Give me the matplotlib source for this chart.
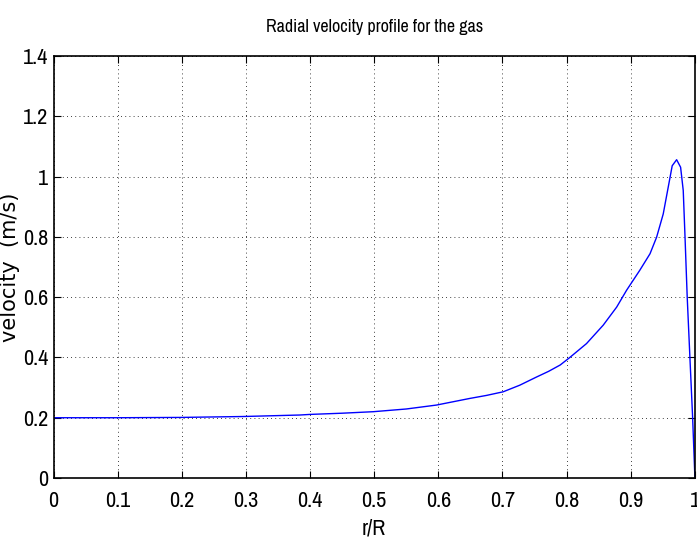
import matplotlib
matplotlib.use("Agg")
import matplotlib.pyplot as plt
import logging
logging.getLogger("matplotlib.font_manager").setLevel(logging.ERROR)

r = [0.0, 0.1, 0.197, 0.295, 0.384, 0.40, 0.45, 0.4985, 0.55, 0.597, 0.649, 0.675,
     0.701, 0.727, 0.753, 0.772, 0.790, 0.805, 0.831, 0.857, 0.878, 0.8935, 0.914,
     0.930, 0.9403, 0.9506, 0.9584, 0.9646, 0.9715, 0.9777, 0.9818, 0.9844, 0.988,
     0.9922, 0.9964, 1.0]
v = [0.200, 0.200, 0.201, 0.204, 0.209, 0.211, 0.215, 0.220, 0.229, 0.242, 0.264, 0.274,
     0.286, 0.308, 0.335, 0.354, 0.375, 0.400, 0.446, 0.507, 0.567, 0.623, 0.689,
     0.744, 0.799, 0.876, 0.965, 1.036, 1.056, 1.031, 0.954, 0.810, 0.600,
     0.400, 0.203, 0.0]
xticks = [0, 0.1, 0.2, 0.3, 0.4, 0.5, 0.6, 0.7, 0.8, 0.9, 1]
xticklabels = ["0", "0.1", "0.2", "0.3", "0.4", "0.5", "0.6", "0.7", "0.8", "0.9", "1"]
yticks = [0, 0.2, 0.4, 0.6, 0.8, 1.0, 1.2, 1.4]
yticklabels = ["0", "0.2", "0.4", "0.6", "0.8", "1", "1.2", "1.4"]

narrow = ["Archivo Narrow", "Roboto Condensed", "DejaVu Sans"]
wide = ["DejaVu Sans"]

fig = plt.figure(figsize=(6.97, 5.53), dpi=100)
ax = fig.add_axes([0.0768, 0.1356, 0.9202, 0.7631])

ax.plot(r, v, color="#0000ff", linewidth=1.0)

ax.set_xlim(0, 1)
ax.set_ylim(0, 1.4)
ax.set_xticks(xticks)
ax.set_xticklabels(xticklabels, fontsize=16, family=narrow)
ax.set_yticks(yticks)
ax.set_yticklabels(yticklabels, fontsize=16, family=narrow)
ax.tick_params(direction="in", length=5, width=0.8, top=True, right=True)
ax.tick_params(axis="x", pad=9)
ax.tick_params(axis="y", pad=4)
ax.grid(True, color="black", linestyle=(0, (1, 4)), linewidth=0.6)
for s in ax.spines.values():
    s.set_linewidth(1.2)

ax.set_title("Radial velocity profile for the gas", fontsize=13, pad=17, family=narrow)
ax.set_xlabel("r/R", fontsize=16, labelpad=6, family=narrow)
ax.set_ylabel("velocity  (m/s)", family=wide, fontsize=15)
ax.yaxis.set_label_coords(-0.052, 0.50)

fig.savefig("out.png", dpi=100)
